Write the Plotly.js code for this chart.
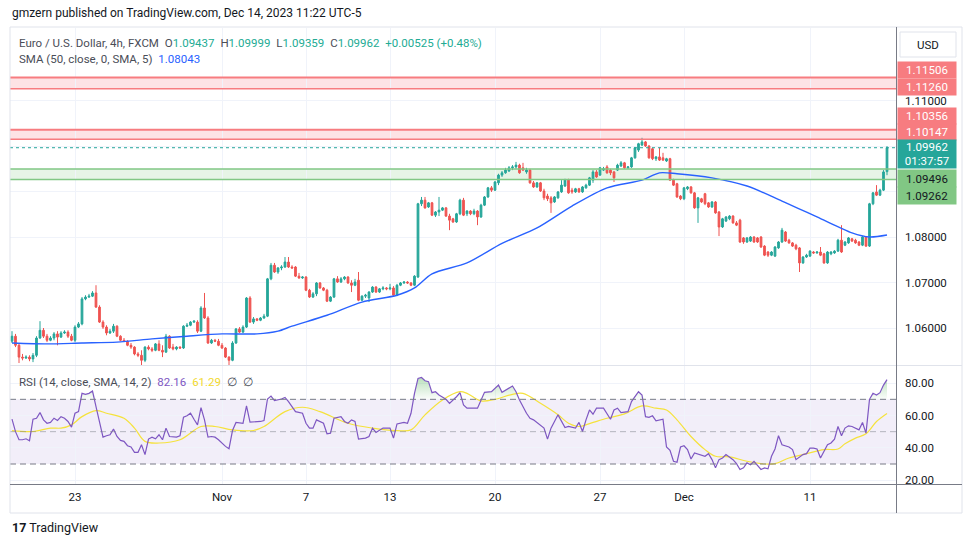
<!DOCTYPE html>
<html><head><meta charset="utf-8">
<script src="https://cdn.plot.ly/plotly-3.0.1.min.js"></script>
<style>html,body{margin:0;padding:0;background:#fff;}#chart{width:970px;height:545px;}</style>
</head><body><div id="chart"></div>
<script>
// ---------- DATA (EUR/USD 4h, FXCM) ----------
const opens = [
1.0571,1.0582,1.0562,1.0536,1.0534,1.0536,1.0532,1.0540,1.0578,1.0595,
1.0582,1.0573,1.0578,1.0587,1.0580,1.0589,1.0591,1.0582,1.0573,1.0602,
1.0609,1.0664,1.0668,1.0670,1.0677,1.0646,1.0613,1.0602,1.0589,1.0593,
1.0604,1.0582,1.0573,1.0571,1.0562,1.0558,1.0543,1.0540,1.0529,1.0558,
1.0554,1.0551,1.0565,1.0551,1.0547,1.0582,1.0558,1.0554,1.0558,1.0556,
1.0604,1.0606,1.0613,1.0613,1.0593,1.0644,1.0622,1.0567,1.0573,1.0571,
1.0562,1.0556,1.0536,1.0529,1.0567,1.0598,1.0591,1.0602,1.0666,1.0613,
1.0620,1.0617,1.0622,1.0626,1.0708,1.0738,1.0723,1.0732,1.0734,1.0745,
1.0734,1.0734,1.0714,1.0710,1.0712,1.0683,1.0668,1.0675,1.0699,1.0688,
1.0683,1.0659,1.0668,1.0708,1.0701,1.0708,1.0712,1.0699,1.0694,1.0705,
1.0661,1.0670,1.0666,1.0679,1.0690,1.0679,1.0686,1.0688,1.0686,1.0688,
1.0672,1.0694,1.0699,1.0701,1.0699,1.0694,1.0712,1.0873,1.0881,1.0866,
1.0875,1.0848,1.0855,1.0859,1.0864,1.0846,1.0840,1.0833,1.0851,1.0881,
1.0851,1.0857,1.0851,1.0857,1.0844,1.0870,1.0888,1.0908,1.0903,1.0919,
1.0936,1.0941,1.0945,1.0952,1.0954,1.0958,1.0952,1.0943,1.0947,1.0919,
1.0910,1.0919,1.0901,1.0890,1.0886,1.0877,1.0886,1.0899,1.0912,1.0925,
1.0903,1.0899,1.0906,1.0899,1.0908,1.0914,1.0925,1.0943,1.0936,1.0947,
1.0954,1.0947,1.0943,1.0947,1.0956,1.0963,1.0952,1.0954,1.0974,1.0991,
1.1002,1.1009,1.1000,1.0994,1.0972,1.0976,1.0974,1.0967,1.0972,1.0925,
1.0917,1.0890,1.0884,1.0906,1.0910,1.0897,1.0864,1.0884,1.0895,1.0875,
1.0866,1.0877,1.0855,1.0822,1.0835,1.0840,1.0846,1.0831,1.0837,1.0798,
1.0789,1.0791,1.0800,1.0798,1.0800,1.0780,1.0767,1.0760,1.0758,1.0776,
1.0789,1.0811,1.0793,1.0787,1.0782,1.0776,1.0743,1.0756,1.0758,1.0767,
1.0765,1.0767,1.0763,1.0743,1.0763,1.0765,1.0769,1.0793,1.0782,1.0787,
1.0796,1.0793,1.0789,1.0782,1.0800,1.0780,1.0873,1.0899,1.0892,1.0903,
1.09437];
const highs = [
1.0593,1.0587,1.0567,1.0543,1.0540,1.0540,1.0545,1.0582,1.0615,1.0600,
1.0587,1.0582,1.0591,1.0593,1.0593,1.0595,1.0595,1.0587,1.0606,1.0613,
1.0668,1.0672,1.0675,1.0681,1.0694,1.0650,1.0617,1.0606,1.0598,1.0609,
1.0606,1.0584,1.0578,1.0573,1.0567,1.0560,1.0547,1.0551,1.0560,1.0562,
1.0558,1.0567,1.0573,1.0562,1.0587,1.0584,1.0565,1.0560,1.0560,1.0606,
1.0611,1.0615,1.0617,1.0617,1.0648,1.0677,1.0626,1.0576,1.0576,1.0576,
1.0567,1.0558,1.0538,1.0571,1.0600,1.0602,1.0606,1.0668,1.0670,1.0624,
1.0622,1.0624,1.0631,1.0710,1.0743,1.0743,1.0734,1.0738,1.0756,1.0756,
1.0738,1.0736,1.0721,1.0714,1.0714,1.0686,1.0679,1.0701,1.0701,1.0690,
1.0686,1.0670,1.0710,1.0714,1.0712,1.0714,1.0714,1.0705,1.0708,1.0723,
1.0672,1.0675,1.0681,1.0692,1.0692,1.0688,1.0692,1.0690,1.0697,1.0692,
1.0697,1.0701,1.0703,1.0703,1.0701,1.0716,1.0875,1.0888,1.0888,1.0877,
1.0877,1.0857,1.0888,1.0866,1.0866,1.0851,1.0842,1.0853,1.0884,1.0886,
1.0859,1.0859,1.0862,1.0859,1.0873,1.0890,1.0910,1.0912,1.0923,1.0939,
1.0945,1.0952,1.0956,1.0958,1.0965,1.0961,1.0963,1.0952,1.0950,1.0923,
1.0921,1.0921,1.0906,1.0895,1.0890,1.0890,1.0901,1.0925,1.0928,1.0928,
1.0908,1.0908,1.0908,1.0912,1.0917,1.0932,1.0947,1.0947,1.0954,1.0954,
1.0958,1.0950,1.0945,1.0961,1.0967,1.0965,1.0956,1.0976,1.0998,1.1007,
1.1018,1.1011,1.1002,1.0996,1.0978,1.0996,1.0985,1.0974,1.0974,1.0928,
1.0919,1.0892,1.0910,1.0912,1.0912,1.0899,1.0888,1.0886,1.0897,1.0877,
1.0879,1.0879,1.0857,1.0842,1.0846,1.0848,1.0848,1.0835,1.0840,1.0800,
1.0800,1.0802,1.0802,1.0800,1.0802,1.0782,1.0769,1.0769,1.0780,1.0791,
1.0820,1.0813,1.0796,1.0789,1.0785,1.0778,1.0758,1.0763,1.0771,1.0769,
1.0769,1.0778,1.0765,1.0769,1.0769,1.0771,1.0796,1.0826,1.0791,1.0800,
1.0798,1.0796,1.0791,1.0802,1.0802,1.0875,1.0899,1.0914,1.0906,1.0947,
1.09999];
const lows = [
1.0567,1.0558,1.0523,1.0529,1.0532,1.0527,1.0525,1.0536,1.0576,1.0578,
1.0569,1.0571,1.0573,1.0562,1.0578,1.0587,1.0578,1.0571,1.0569,1.0600,
1.0606,1.0661,1.0666,1.0668,1.0644,1.0611,1.0598,1.0584,1.0587,1.0589,
1.0580,1.0571,1.0569,1.0560,1.0554,1.0540,1.0536,1.0518,1.0525,1.0551,
1.0547,1.0549,1.0549,1.0536,1.0545,1.0554,1.0551,1.0551,1.0554,1.0554,
1.0602,1.0604,1.0611,1.0589,1.0591,1.0620,1.0565,1.0565,1.0569,1.0560,
1.0554,1.0534,1.0518,1.0527,1.0565,1.0589,1.0589,1.0600,1.0611,1.0609,
1.0615,1.0615,1.0620,1.0624,1.0705,1.0721,1.0719,1.0727,1.0732,1.0732,
1.0730,1.0712,1.0708,1.0708,1.0681,1.0666,1.0666,1.0670,1.0686,1.0681,
1.0657,1.0657,1.0666,1.0699,1.0699,1.0705,1.0697,1.0679,1.0692,1.0659,
1.0659,1.0666,1.0657,1.0677,1.0677,1.0677,1.0683,1.0683,1.0683,1.0670,
1.0670,1.0692,1.0697,1.0697,1.0692,1.0692,1.0710,1.0868,1.0862,1.0864,
1.0846,1.0844,1.0846,1.0857,1.0844,1.0815,1.0831,1.0831,1.0848,1.0846,
1.0846,1.0848,1.0848,1.0826,1.0842,1.0868,1.0886,1.0899,1.0901,1.0914,
1.0932,1.0939,1.0943,1.0947,1.0950,1.0939,1.0945,1.0939,1.0917,1.0908,
1.0908,1.0899,1.0881,1.0879,1.0853,1.0875,1.0884,1.0897,1.0910,1.0895,
1.0895,1.0897,1.0897,1.0897,1.0906,1.0912,1.0919,1.0930,1.0934,1.0945,
1.0939,1.0936,1.0921,1.0945,1.0954,1.0950,1.0950,1.0952,1.0972,1.0987,
1.1000,1.0998,1.0972,1.0969,1.0967,1.0967,1.0967,1.0965,1.0923,1.0912,
1.0886,1.0881,1.0881,1.0903,1.0895,1.0862,1.0831,1.0875,1.0870,1.0864,
1.0864,1.0851,1.0802,1.0820,1.0833,1.0837,1.0829,1.0824,1.0787,1.0785,
1.0787,1.0789,1.0787,1.0787,1.0776,1.0758,1.0756,1.0758,1.0756,1.0774,
1.0787,1.0789,1.0785,1.0778,1.0771,1.0723,1.0741,1.0754,1.0756,1.0763,
1.0763,1.0758,1.0741,1.0741,1.0760,1.0763,1.0767,1.0765,1.0780,1.0785,
1.0789,1.0785,1.0780,1.0780,1.0778,1.0778,1.0870,1.0890,1.0890,1.0901,
1.09359];
const closes = [
1.0582,1.0562,1.0536,1.0534,1.0536,1.0532,1.0540,1.0578,1.0595,1.0582,
1.0573,1.0578,1.0587,1.0580,1.0589,1.0591,1.0582,1.0573,1.0602,1.0609,
1.0664,1.0668,1.0670,1.0677,1.0646,1.0613,1.0602,1.0589,1.0593,1.0604,
1.0582,1.0573,1.0571,1.0562,1.0558,1.0543,1.0540,1.0529,1.0558,1.0554,
1.0551,1.0565,1.0551,1.0547,1.0582,1.0556,1.0554,1.0558,1.0556,1.0604,
1.0606,1.0613,1.0615,1.0593,1.0644,1.0622,1.0567,1.0573,1.0571,1.0562,
1.0556,1.0536,1.0529,1.0567,1.0598,1.0591,1.0602,1.0666,1.0613,1.0620,
1.0617,1.0622,1.0626,1.0708,1.0738,1.0723,1.0732,1.0734,1.0745,1.0734,
1.0732,1.0714,1.0710,1.0712,1.0683,1.0668,1.0675,1.0699,1.0688,1.0683,
1.0659,1.0668,1.0708,1.0701,1.0708,1.0712,1.0699,1.0694,1.0701,1.0661,
1.0670,1.0672,1.0679,1.0690,1.0679,1.0686,1.0688,1.0686,1.0688,1.0672,
1.0694,1.0699,1.0701,1.0699,1.0694,1.0714,1.0873,1.0881,1.0864,1.0875,
1.0848,1.0855,1.0859,1.0864,1.0846,1.0837,1.0833,1.0851,1.0881,1.0848,
1.0857,1.0851,1.0857,1.0844,1.0870,1.0888,1.0908,1.0903,1.0921,1.0936,
1.0941,1.0947,1.0952,1.0954,1.0958,1.0941,1.0947,1.0947,1.0919,1.0910,
1.0919,1.0901,1.0886,1.0884,1.0875,1.0888,1.0899,1.0914,1.0925,1.0897,
1.0899,1.0906,1.0899,1.0910,1.0914,1.0930,1.0943,1.0932,1.0952,1.0950,
1.0941,1.0941,1.0930,1.0958,1.0963,1.0952,1.0954,1.0974,1.0996,1.1005,
1.1009,1.1000,1.0974,1.0972,1.0976,1.0969,1.0969,1.0972,1.0925,1.0914,
1.0888,1.0884,1.0908,1.0910,1.0897,1.0864,1.0886,1.0877,1.0873,1.0866,
1.0877,1.0853,1.0822,1.0840,1.0844,1.0846,1.0831,1.0826,1.0789,1.0789,
1.0798,1.0800,1.0789,1.0789,1.0778,1.0760,1.0760,1.0767,1.0778,1.0789,
1.0815,1.0791,1.0787,1.0780,1.0774,1.0743,1.0756,1.0760,1.0769,1.0765,
1.0767,1.0760,1.0743,1.0767,1.0767,1.0769,1.0793,1.0767,1.0789,1.0798,
1.0791,1.0787,1.0782,1.0800,1.0780,1.0873,1.0897,1.0892,1.0903,1.0943,
1.09962];

// SMA(50), at bar indices
const smaIdx = [0,10,20,30,40,50,60,70,76,80,90,100,110,115,120,130,140,150,160,170,180,185,190,200,210,220,230,240,245,250];
const smaVal = [1.0567,1.0565,1.0567,1.0569,1.0576,1.0582,1.0587,1.0587,1.0593,1.0604,1.0628,1.0657,1.0672,1.0688,1.0719,1.0743,1.0786,1.0820,1.0868,1.0908,1.0925,1.0941,1.0939,1.0930,1.0912,1.0879,1.0844,1.0809,1.0800,1.08043];

// RSI(14)
const rsiIdx = [0,1,2,3,4,5,6,7,8,9,10,11,12,13,14,15,16,17,18,19,20,21,22,23,24,25,26,27,28,29,30,31,32,33,34,35,36,37,38,39,40,41,42,43,44,45,46,47,48,49,50,51,52,53,54,55,56,57,58,59,61,62,63,64,66,67,68,69,71,72,73,74,75,77,78,79,81,83,84,85,86,87,89,90,91,92,94,95,96,97,98,99,101,102,103,104,106,108,109,110,112,113,114,115,116,117,118,119,120,121,122,124,125,127,128,129,130,133,134,135,137,139,140,141,143,144,145,147,148,149,152,153,154,156,158,159,161,162,163,164,165,166,167,169,170,171,172,173,174,176,177,178,179,180,181,182,183,184,185,186,187,188,189,190,191,192,193,194,195,196,198,199,200,201,202,203,204,206,207,208,209,210,211,212,213,214,215,216,217,218,219,220,222,223,224,226,227,228,229,230,231,233,234,235,236,237,238,239,240,242,243,244,245,246,247,248,249,250];
const rsiVal = [57.7,50.0,45.0,45.0,45.6,44.4,57.7,58.3,61.8,57.3,55.2,55.7,58.3,56.9,59.3,58.3,56.3,52.8,61.4,62.4,73.7,73.1,73.7,75.1,65.5,56.3,46.6,47.5,48.1,51.6,47.0,44.6,44.0,41.3,40.5,37.2,37.2,41.9,35.8,45.4,46.6,45.6,48.1,45.0,52.2,47.0,46.6,46.6,47.5,58.9,59.8,61.4,57.7,54.2,64.9,57.3,46.6,47.0,46.6,45.0,40.9,39.5,50.7,55.7,55.2,65.9,55.9,55.9,56.3,56.9,70.2,72.0,69.2,70.2,71.2,68.6,62.4,61.4,55.2,52.2,52.2,57.3,55.2,48.7,49.1,58.3,59.3,56.3,55.2,57.3,56.3,45.4,46.0,47.0,52.2,49.5,52.2,52.2,46.0,54.8,55.7,55.2,61.4,73.7,82.9,83.5,81.5,80.9,74.1,74.7,72.7,70.0,67.5,71.6,74.1,66.5,64.5,64.5,69.6,74.3,74.7,78.8,74.3,75.7,78.2,74.7,69.6,61.4,58.3,57.3,52.2,45.4,52.2,60.4,52.6,53.2,52.2,55.7,50.1,57.3,63.4,60.8,64.5,64.5,61.4,57.7,63.4,64.5,61.8,62.4,68.6,72.0,74.7,72.7,59.3,58.9,59.8,56.7,57.3,57.7,40.5,38.4,31.7,31.1,40.5,41.3,38.9,33.1,36.8,36.2,34.8,36.4,32.7,27.6,32.7,33.7,35.8,32.7,30.2,26.6,27.6,30.7,29.6,31.7,29.0,26.6,27.6,27.0,34.8,39.3,47.5,41.9,40.5,38.9,32.7,35.8,36.4,39.8,39.8,39.3,33.7,41.9,43.0,45.4,53.2,47.5,52.2,53.6,53.2,51.1,55.7,49.1,70.0,73.7,72.7,74.1,78.8,82.16];
// SMA(14) of RSI
const rsiMaIdx = [0,6,11,14,17,20,24,27,32,35,38,42,48,54,58,63,69,72,78,83,88,96,103,110,114,118,123,128,130,134,138,143,146,151,156,159,162,165,170,175,180,184,187,190,194,198,201,205,210,215,218,222,227,232,236,238,241,244,247,250];
const rsiMaVal = [50.7,50.1,52.2,52.2,54.2,59.3,63.0,61.4,58.3,52.2,44.0,43.0,45.0,53.2,53.2,51.1,50.7,53.2,62.4,65.1,62.4,55.2,52.2,50.7,51.1,60.4,69.6,74.7,73.7,69.0,70.0,73.1,73.7,67.5,60.4,55.2,53.2,55.0,58.3,61.0,65.9,64.5,63.4,57.3,47.0,38.9,34.8,34.4,31.7,30.0,30.2,33.7,36.4,38.9,39.3,42.5,46.0,48.7,56.3,61.29];

const dayTickIdx  = [18,60,84,108,138,168,192,228];
const dayTickText = ['23','Nov','7','13','20','27','Dec','11'];
const priceTicks  = [1.06,1.07,1.08,1.09,1.10,1.11];
const priceTickShown = [true,true,true,false,false,true]; // 1.09 / 1.10 labels sit under price tags
const rsiTicks    = [20,40,60,80];
const resistanceZones = [[1.11260,1.11506],[1.10147,1.10356]];
const supportZones    = [[1.09262,1.09496]];
const countdown = '01:37:57';

// ---------- LAYOUT HELPERS ----------
const W=970,H=545, PL=10, PR=896, PT=28, PB=484;
const fx = px => (px-PL)/(PR-PL);
const fy = py => (PB-py)/(PB-PT);
const FONT = 'Roboto, "Liberation Sans", Arial, sans-serif';
const GREEN='#26a69a', RED='#ef5350';
const N = closes.length;
const bars = closes.map((_,i)=>i);
const last = N-1;

const traces = [
  {type:'candlestick', x:bars, open:opens, high:highs, low:lows, close:closes,
   xaxis:'x', yaxis:'y', whiskerwidth:0, hoverinfo:'skip',
   increasing:{line:{color:GREEN,width:1}, fillcolor:GREEN},
   decreasing:{line:{color:RED,width:1}, fillcolor:RED}},
  {type:'scatter', mode:'lines', x:smaIdx, y:smaVal, xaxis:'x', yaxis:'y',
   line:{color:'#2962ff', width:1.4, shape:'spline', smoothing:0.8}, hoverinfo:'skip'},
  // overbought fill
  {type:'scatter', mode:'lines', x:rsiIdx, y:rsiIdx.map(()=>70), xaxis:'x', yaxis:'y2',
   line:{width:0,color:'rgba(0,0,0,0)'}, hoverinfo:'skip'},
  {type:'scatter', mode:'lines', x:rsiIdx, y:rsiVal.map(v=>Math.max(v,70)), xaxis:'x', yaxis:'y2',
   line:{width:0,color:'rgba(0,0,0,0)'}, fill:'tonexty',
   fillgradient:{type:'vertical', start:70, stop:86,
     colorscale:[[0,'rgba(76,175,80,0.02)'],[1,'rgba(76,175,80,0.45)']]}, hoverinfo:'skip'},
  {type:'scatter', mode:'lines', x:rsiMaIdx, y:rsiMaVal, xaxis:'x', yaxis:'y2',
   line:{color:'#f5e23c', width:1.2, shape:'spline', smoothing:1}, hoverinfo:'skip'},
  {type:'scatter', mode:'lines', x:rsiIdx, y:rsiVal, xaxis:'x', yaxis:'y2',
   line:{color:'#7e57c2', width:1.2}, hoverinfo:'skip'}
];

const shapes = [];
shapes.push({type:'rect', xref:'paper', yref:'y2', x0:0, x1:1, y0:30, y1:70, fillcolor:'rgba(126,87,194,0.1)', line:{width:0}, layer:'below'});
[[70,'#787b86'],[30,'#787b86'],[50,'rgba(120,123,134,0.5)']].forEach(([v,c])=>
  shapes.push({type:'line', xref:'paper', yref:'y2', x0:0, x1:1, y0:v, y1:v, line:{color:c, width:1, dash:'6px,4px'}}));
resistanceZones.forEach(([lo,hi])=>{
  shapes.push({type:'rect', xref:'paper', yref:'y', x0:0, x1:1, y0:lo, y1:hi, fillcolor:'rgba(242,54,69,0.14)', line:{width:0}, layer:'below'});
  shapes.push({type:'line', xref:'paper', yref:'y', x0:0, x1:1, y0:hi, y1:hi, line:{color:'#f77c80', width:2}});
  shapes.push({type:'line', xref:'paper', yref:'y', x0:0, x1:1, y0:lo, y1:lo, line:{color:'#f77c80', width:1.5}});
});
supportZones.forEach(([lo,hi])=>{
  shapes.push({type:'rect', xref:'paper', yref:'y', x0:0, x1:1, y0:lo, y1:hi, fillcolor:'rgba(76,175,80,0.14)', line:{width:0}, layer:'below'});
  shapes.push({type:'line', xref:'paper', yref:'y', x0:0, x1:1, y0:hi, y1:hi, line:{color:'#81c784', width:1.5}});
  shapes.push({type:'line', xref:'paper', yref:'y', x0:0, x1:1, y0:lo, y1:lo, line:{color:'#81c784', width:1.5}});
});
shapes.push({type:'line', xref:'paper', yref:'y', x0:0, x1:1, y0:closes[last], y1:closes[last], line:{color:GREEN, width:1, dash:'dot'}});
shapes.push({type:'rect', xref:'paper', yref:'paper', x0:fx(10), x1:fx(962), y0:fy(513), y1:fy(27), line:{color:'#e0e3eb', width:1}});
shapes.push({type:'line', xref:'paper', yref:'paper', x0:fx(10), x1:fx(962), y0:fy(365.5), y1:fy(365.5), line:{color:'#e0e3eb', width:1}});
shapes.push({type:'line', xref:'paper', yref:'paper', x0:fx(10), x1:fx(962), y0:fy(484.5), y1:fy(484.5), line:{color:'#787b86', width:1}});
shapes.push({type:'line', xref:'paper', yref:'paper', x0:fx(896.5), x1:fx(896.5), y0:fy(513), y1:fy(27), line:{color:'#787b86', width:1}});
shapes.push({type:'rect', xref:'paper', yref:'paper', x0:fx(900), x1:fx(956), y0:fy(57), y1:fy(32), line:{color:'#e0e3eb', width:1}, fillcolor:'#ffffff'});

const fmt5 = v => v.toFixed(5);
const chg = closes[last]-opens[last];
const pct = chg/opens[last]*100;
const sp = '\u2002';
const val = (t,c)=>`<span style="color:${c}">${t}</span>`;
const lab = '#4a4d57', up='#22ab94';

const annotations = [
  {xref:'paper', yref:'paper', x:fx(10), y:fy(13), xanchor:'left', yanchor:'middle', showarrow:false,
   text:'gmzern published on TradingView.com, Dec 14, 2023 11:22 UTC-5', font:{family:FONT, size:12, color:'#131722'}},
  {xref:'paper', yref:'paper', x:fx(17), y:fy(42.5), xanchor:'left', yanchor:'middle', showarrow:false,
   text:`Euro / U.S. Dollar, 4h, FXCM${sp}O${val(fmt5(opens[last]),up)}${sp}H${val(fmt5(highs[last]),up)}${sp}L${val(fmt5(lows[last]),up)}${sp}C${val(fmt5(closes[last]),up)}${sp}${val('+'+fmt5(chg)+' (+'+pct.toFixed(2)+'%)',up)}`,
   font:{family:FONT, size:11.5, color:lab}},
  {xref:'paper', yref:'paper', x:fx(17), y:fy(59), xanchor:'left', yanchor:'middle', showarrow:false,
   text:`SMA (50, close, 0, SMA, 5)${sp}${val(fmt5(smaVal[smaVal.length-1]),'#2962ff')}`,
   font:{family:FONT, size:11.5, color:lab}},
  {xref:'paper', yref:'paper', x:fx(17), y:fy(381.5), xanchor:'left', yanchor:'middle', showarrow:false,
   text:`RSI (14, close, SMA, 14, 2)${sp}${val(rsiVal[rsiVal.length-1].toFixed(2),'#7e57c2')}${sp}${val(rsiMaVal[rsiMaVal.length-1].toFixed(2),'#f2d92e')}${sp}\u2205${sp}\u2205`,
   font:{family:FONT, size:11.5, color:lab}},
  {xref:'paper', yref:'paper', x:fx(928), y:fy(44.5), xanchor:'center', yanchor:'middle', showarrow:false,
   text:'USD', font:{family:FONT, size:11.5, color:'#131722'}},
  {xref:'paper', yref:'paper', x:fx(10), y:fy(527), xanchor:'left', yanchor:'middle', showarrow:false,
   text:'<b>17</b> TradingView', font:{family:FONT, size:12.5, color:'#131722'}}
];
const tag = (price, shift, bg, fg, text, h) => annotations.push({
  xref:'paper', yref:'y', x:1, y:price, xanchor:'left', yanchor:'middle', xshift:1, yshift:shift,
  showarrow:false, text:text, bgcolor:bg, font:{family:FONT, size:11.5, color:fg},
  width:56, height:h, borderpad:1, align:'center', valign:'middle'});
tag(resistanceZones[0][1], 7, '#f77c80', '#ffffff', fmt5(resistanceZones[0][1]), 14);
tag(resistanceZones[0][0], 2, '#f77c80', '#ffffff', fmt5(resistanceZones[0][0]), 14);
tag(resistanceZones[1][1], 14, '#f77c80', '#ffffff', fmt5(resistanceZones[1][1]), 14);
tag(resistanceZones[1][0], 7, '#f77c80', '#ffffff', fmt5(resistanceZones[1][0]), 14);
tag(closes[last], -6, GREEN, '#ffffff', fmt5(closes[last])+'<br>'+countdown, 26);
tag(supportZones[0][1], -10, '#81c784', '#131722', fmt5(supportZones[0][1]), 15);
tag(supportZones[0][0], -16, '#81c784', '#131722', fmt5(supportZones[0][0]), 15);

const layout = {
  width:W, height:H, margin:{l:PL, r:W-PR, t:PT, b:H-PB}, paper_bgcolor:'#ffffff', plot_bgcolor:'#ffffff',
  showlegend:false, hovermode:false, dragmode:false,
  xaxis:{domain:[0,1], anchor:'y2', range:[-0.57,252.57], tickvals:dayTickIdx, ticktext:dayTickText,
    showgrid:true, gridcolor:'#f0f3fa', gridwidth:1, zeroline:false, showline:false, ticks:'',
    tickfont:{family:FONT, size:11.5, color:'#131722'}, ticklabelstandoff:4, rangeslider:{visible:false}, fixedrange:true},
  yaxis:{domain:[fy(365),1], anchor:'x', side:'right', range:[1.051868,1.125934], tickvals:priceTicks,
    ticktext:priceTicks.map((v,i)=>priceTickShown[i]?fmt5(v):''), showgrid:true, gridcolor:'#f0f3fa', zeroline:false, showline:false, ticks:'',
    tickfont:{family:FONT, size:11.5, color:'#131722'}, ticklabelstandoff:8, fixedrange:true},
  yaxis2:{domain:[0,fy(366)], anchor:'x', side:'right', range:[17.64,90.6], tickvals:rsiTicks,
    ticktext:rsiTicks.map(v=>v.toFixed(2)), showgrid:true, gridcolor:'#f0f3fa', zeroline:false, showline:false, ticks:'',
    tickfont:{family:FONT, size:11.5, color:'#131722'}, ticklabelstandoff:8, fixedrange:true},
  shapes:shapes, annotations:annotations
};
Plotly.newPlot('chart', traces, layout, {staticPlot:true, displayModeBar:false});
</script></body></html>
